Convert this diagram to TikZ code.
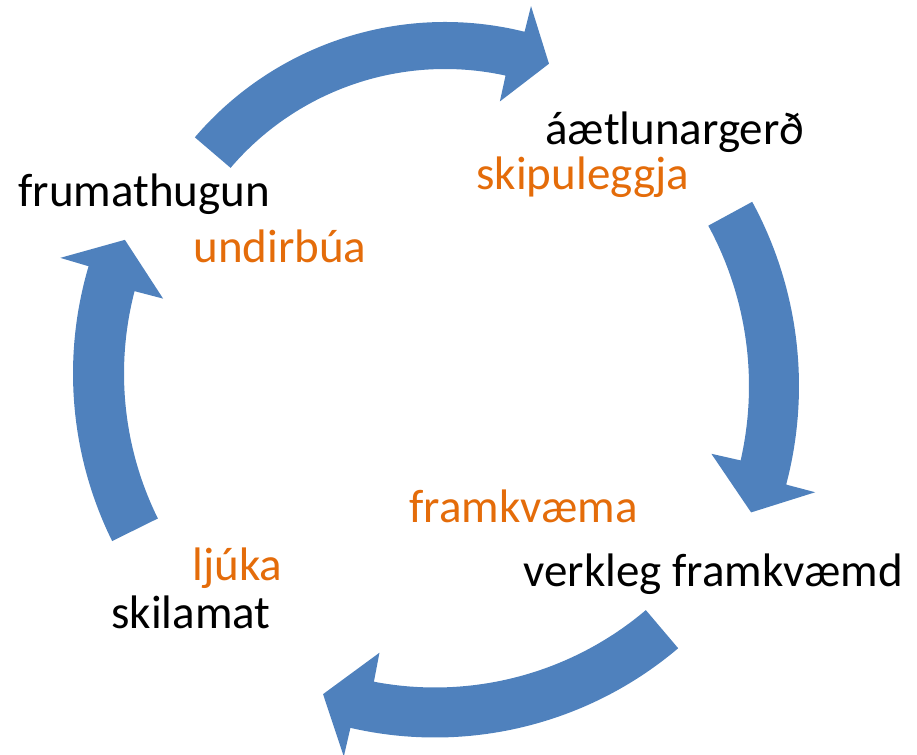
\documentclass[tikz,border=0pt]{standalone}
\usepackage{fontspec}
\setmainfont{Carlito}
\usepackage{tikz}
\definecolor{cycleblue}{HTML}{4F81BD}
\definecolor{tasknote}{HTML}{E46C0A}
\tikzset{
  cyclearrow/.style={fill=cycleblue},
  phase/.style={inner sep=0pt, font=\fontsize{23.5}{28}\selectfont},
  task/.style={phase, text=tasknote},
}
\newcommand{\cyclearc}[8]{%
  \fill[cyclearrow, shift={(#1)}] (#4:#3) arc[start angle=#4, end angle=#5, radius=#3]
    -- (#5:{(#2+#3)/2+#8}) -- (#7:{(#2+#3)/2}) -- (#6:{(#2+#3)/2-#8})
    -- (#6:#2) arc[start angle=#6, end angle=#4, radius=#2] -- cycle;}

\begin{document}
\begin{tikzpicture}[x=0.5pt, y=0.5pt]
\useasboundingbox (0,0) rectangle (917,755);
\coordinate (ctop) at (445,404);
\coordinate (cright) at (413,369);
\coordinate (cbottom) at (435,393.5);
\coordinate (cleft) at (451,381.4);

\cyclearc{ctop}{282}{329}{139.5}{76}{77.6}{70.1}{50}
\cyclearc{cright}{336}{386}{28.5}{-14.8}{-12.8}{-20.5}{55}
\cyclearc{cbottom}{326}{376}{310.3}{257}{259.2}{251.4}{54.5}
\cyclearc{cleft}{327}{378}{206.3}{163.5}{165.4}{157.7}{55}

\node[phase, anchor=base west] (frum) at (18,548) {frumathugun};
\node[task, anchor=base west] (undir) at (193,492) {undirbúa};
\node[phase, anchor=base west] (aetl) at (545,610) {áætlunargerð};
\node[task, anchor=base west] (skip) at (476,565) {skipuleggja};
\node[task, anchor=base west] (frkv) at (409,232) {framkvæma};
\node[phase, anchor=base west] (verk) at (523,168) {verkleg framkvæmd};
\node[task, anchor=base west] (ljuk) at (192,174) {ljúka};
\node[phase, anchor=base east] (skil) at (271,126) {skilamat};
\end{tikzpicture}
\end{document}
